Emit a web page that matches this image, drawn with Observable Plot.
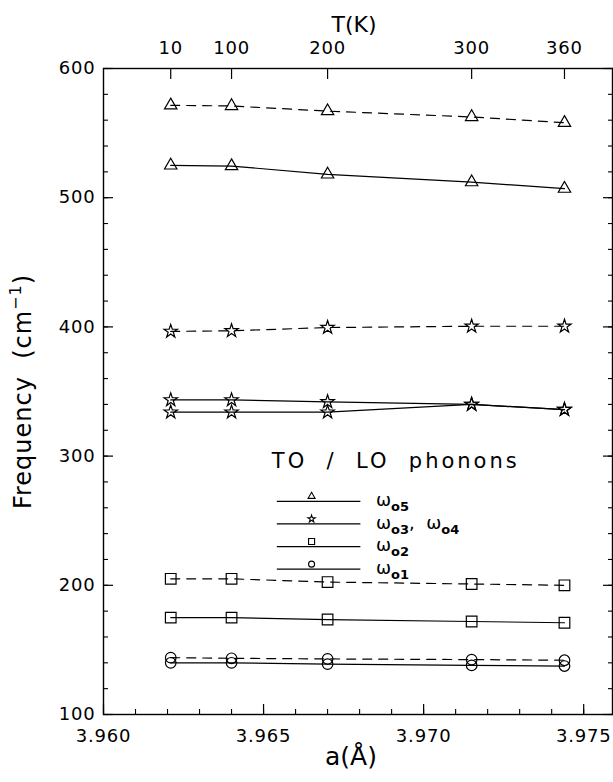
<!DOCTYPE html>
<html><head><meta charset="utf-8">
<script src="https://cdn.jsdelivr.net/npm/d3@7"></script>
<script src="https://cdn.jsdelivr.net/npm/@observablehq/plot@0.6"></script>
<style>
html,body{margin:0;padding:0;background:#fff;}
svg{font-family:"DejaVu Sans",sans-serif;}
</style></head><body><div id="chart"></div>
<script>
// ---- data ----
const latticeA = [3.9621, 3.9640, 3.9670, 3.9715, 3.9744];   // a (Å)
const temperatureK = [10, 100, 200, 300, 360];                 // T (K), top axis
const loW5  = [571.5, 571, 567, 562.5, 558];
const toW5  = [525, 524.5, 518, 512, 507];
const loW34 = [396.5, 397, 399.5, 400.5, 400.5];
const toW3  = [343.5, 343.5, 342, 340, 336];
const toW4  = [334, 334, 334, 340, 336];
const loW2  = [205, 205, 202.5, 201, 200];
const toW2  = [175, 175, 173.5, 172, 171];
const loW1  = [144, 143.5, 143, 142.5, 142];
const toW1  = [140, 140, 139, 138, 137.5];

const xTickValues = [3.960, 3.965, 3.970, 3.975];
const xMinorTicks = d3.range(16).map(i => +(3.960 + i * 0.001).toFixed(3));
const yTickValues = [100, 200, 300, 400, 500, 600];
const yMinorTicks = d3.range(100, 601, 20);

const legendTitle = "TO  /  LO  phonons";
const legendSymbols = ["triangle", "star", "square", "circle"];
const legendParts = [
  [["ω", "o5"]],
  [["ω", "o3"], [",  ", null], ["ω", "o4"]],
  [["ω", "o2"]],
  [["ω", "o1"]]
];
// legend placement in data units (a, frequency)
const legendRowY = [265, 247.5, 230, 212.5];
const legendLineA = [3.96543, 3.96804];
const legendSymbolA = 3.9665;
const legendLabelA = 3.96851;
const legendTitlePos = [3.96913, 296];

// ---- build table ----
const series = [
  {name: "LO w5", symbol: "triangle", dashed: true,  values: loW5},
  {name: "TO w5", symbol: "triangle", dashed: false, values: toW5},
  {name: "LO w34", symbol: "star",    dashed: true,  values: loW34},
  {name: "TO w3", symbol: "star",     dashed: false, values: toW3},
  {name: "TO w4", symbol: "star",     dashed: false, values: toW4},
  {name: "LO w2", symbol: "square",   dashed: true,  values: loW2},
  {name: "TO w2", symbol: "square",   dashed: false, values: toW2},
  {name: "LO w1", symbol: "circle",   dashed: true,  values: loW1},
  {name: "TO w1", symbol: "circle",   dashed: false, values: toW1}
];
const rows = series.flatMap(s => s.values.map((f, i) => ({series: s.name, symbol: s.symbol, dashed: s.dashed, a: latticeA[i], f})));
const legendRows = legendSymbols.map((s, i) => ({symbol: s, y: legendRowY[i]}));

const symbolR = {triangle: 4.6, star: 4.2, square: 6, circle: 5.3};
const legendSymbolR = {triangle: 2.6, star: 2.3, square: 3.4, circle: 3};

const dotMarks = Object.keys(symbolR).map(sym =>
  Plot.dot(rows.filter(d => d.symbol === sym), {x: "a", y: "f", symbol: sym, r: symbolR[sym], fill: "none", stroke: "black", strokeWidth: 1.2}));
const legendDotMarks = Object.keys(legendSymbolR).map(sym =>
  Plot.dot(legendRows.filter(d => d.symbol === sym), {x: () => legendSymbolA, y: "y", symbol: sym, r: legendSymbolR[sym], dy: -5, fill: "none", stroke: "black", strokeWidth: 1.1}));

const chart = Plot.plot({
  width: 613, height: 782,
  marginLeft: 103, marginRight: 1, marginTop: 68, marginBottom: 68,
  style: {fontSize: "18px", fontFamily: "DejaVu Sans, sans-serif", color: "black", background: "white"},
  x: {domain: [3.960, 3.9759]},
  y: {domain: [100, 600]},
  marks: [
    // tick marks (inward)
    Plot.axisX({ticks: xTickValues, text: null, tickSize: 10, dy: -10, label: null, strokeWidth: 1.2}),
    Plot.axisX({ticks: xMinorTicks, text: null, tickSize: 5, dy: -5, label: null, strokeWidth: 1.1}),
    Plot.axisX({anchor: "top", ticks: latticeA, text: null, tickSize: 10, dy: 10, label: null, strokeWidth: 1.2}),
    Plot.axisY({ticks: yTickValues, text: null, tickSize: 10, dx: 10, label: null, strokeWidth: 1.2}),
    Plot.axisY({ticks: yMinorTicks, text: null, tickSize: 5, dx: 5, label: null, strokeWidth: 1.1}),
    Plot.axisY({anchor: "right", ticks: yTickValues, text: null, tickSize: 10, dx: -10, label: null, strokeWidth: 1.2}),
    Plot.axisY({anchor: "right", ticks: yMinorTicks, text: null, tickSize: 5, dx: -5, label: null, strokeWidth: 1.1}),
    // tick labels
    Plot.axisX({ticks: xTickValues, tickSize: 0, tickPadding: 15, tickFormat: d3.format(".3f"), label: null, fontSize: 18}),
    Plot.axisX({anchor: "top", ticks: latticeA, tickSize: 0, tickPadding: 15, tickFormat: d => temperatureK[latticeA.indexOf(d)], label: null, fontSize: 18}),
    Plot.axisY({ticks: yTickValues, tickSize: 0, tickPadding: 8, label: null, fontSize: 18}),
    Plot.frame({stroke: "black", strokeWidth: 1.4}),
    // axis titles
    Plot.text(["T(K)"], {frameAnchor: "top", text: d => d, dy: -52, dx: -4, fontSize: 22}),
    Plot.text(["a(Å)"], {frameAnchor: "bottom", text: d => d, dy: 50, dx: -7, fontSize: 25}),
    Plot.text(["Frequency"], {frameAnchor: "left", textAnchor: "middle", text: d => d, rotate: -90, dx: -80, fontSize: 24, className: "ylab"}),
    // data
    Plot.line(rows.filter(d => d.dashed), {x: "a", y: "f", z: "series", stroke: "black", strokeWidth: 1.2, strokeDasharray: "9,7"}),
    Plot.line(rows.filter(d => !d.dashed), {x: "a", y: "f", z: "series", stroke: "black", strokeWidth: 1.2}),
    ...dotMarks,
    // legend
    Plot.text([legendTitle], {x: () => legendTitlePos[0], y: () => legendTitlePos[1], text: d => d, fontSize: 21, className: "legtitle"}),
    Plot.ruleY(legendRows, {y: "y", x1: () => legendLineA[0], x2: () => legendLineA[1], stroke: "black", strokeWidth: 1.2}),
    ...legendDotMarks,
    Plot.text(legendRows, {x: () => legendLabelA, y: "y", text: () => "ω", textAnchor: "start", dy: -1, fontSize: 18, className: "leglab"})
  ]
});
document.getElementById("chart").appendChild(chart);

const ns = "http://www.w3.org/2000/svg";
function tspan(parent, txt, attrs) {
  const t = document.createElementNS(ns, "tspan");
  t.textContent = txt;
  for (const k in attrs) t.setAttribute(k, attrs[k]);
  parent.appendChild(t);
  return t;
}
// wider tick labels like the original lettering
d3.select(chart).selectAll('g[aria-label$="tick label"]').style("letter-spacing", "0.8px");
// legend labels with subscripts
d3.select(chart).selectAll(".leglab text").each(function(_, i) {
  this.textContent = "";
  this.style.whiteSpace = "pre";
  let shifted = false;
  for (const [main, sub] of legendParts[i]) {
    tspan(this, main, shifted ? {dy: -5} : {});
    shifted = false;
    if (sub) { tspan(this, sub, {dy: 5, "font-size": 13, "font-weight": "bold"}); shifted = true; }
  }
});
d3.select(chart).selectAll(".legtitle text").style("white-space", "pre").style("letter-spacing", "3px");
// y label with superscript
d3.select(chart).selectAll(".ylab text").each(function() {
  this.textContent = "";
  this.style.whiteSpace = "pre";
  this.style.letterSpacing = "1px";
  tspan(this, "Frequency  (cm");
  tspan(this, "−1", {dy: -10, "font-size": 16});
  tspan(this, ")", {dy: 10});
});
</script></body></html>
